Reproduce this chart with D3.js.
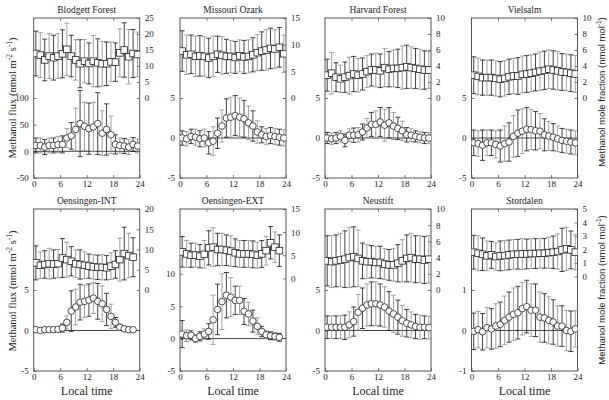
<!DOCTYPE html>
<html>
<head>
<meta charset="utf-8">
<script src="https://cdn.jsdelivr.net/npm/d3@7"></script>
<style>
  body { margin: 0; background: #fff; }
  svg { display: block; }
</style>
</head>
<body>
<svg id="chart"></svg>
<script>
/* set constant */
const width = 609, height = 400;
const colX = [33.7, 180, 325, 471.5], panelW = 106;
const rowY = [[18, 178], [209, 371]];

/* data: hour of day and site names */
const hours = [0.5, 1.5, 2.5, 3.5, 4.5, 5.5, 6.5, 7.5, 8.5, 9.5, 10.5, 11.5,
               12.5, 13.5, 14.5, 15.5, 16.5, 17.5, 18.5, 19.5, 20.5, 21.5, 22.5, 23.5];
const hoursOens = [0.5, 1.5, 2.5, 3.5, 4.5, 5.5, 6.5, 7.5, 8.5, 9.5, 10.5, 11.5,
                   12.5, 13.5, 14.5, 15.5, 16.5, 17.5, 18.5, 19.5, 20.5, 21.5, 22.5];
const sites = ["Blodgett Forest", "Missouri Ozark", "Harvard Forest", "Vielsalm",
               "Oensingen-INT", "Oensingen-EXT", "Neustift", "Stordalen"];

/* axis domains and tick labels (flux = left, mole fraction = right) */
const fluxDomain = [[-50, 250], [-5, 15], [-5, 15], [-5, 15], [-5, 15], [-5, 20], [-5, 15], [-1, 3]];
const fluxTicks = [[-50, 0, 50, 100], [-5, 0, 5], [-5, 0, 5], [-5, 0, 5], [-5, 0, 5], [-5, 0, 5, 10], [-5, 0, 5], [-1, 0, 1]];
const concDomain = [[-25, 25], [-15, 15], [-10, 10], [-10, 10], [-20, 20], [-20, 15], [-10, 10], [-7, 5]];
const concTicks = [[0, 5, 10, 15, 20, 25], [0, 5, 10, 15], [0, 2, 4, 6, 8, 10], [0, 2, 4, 6, 8, 10],
                   [0, 5, 10, 15, 20], [0, 5, 10, 15], [0, 2, 4, 6, 8, 10], [0, 1, 2, 3, 4, 5]];
const timeTicks = [0, 6, 12, 18, 24];

/* Blodgett Forest */
const blodgettConc = [13.9, 13.4, 11.9, 13.1, 12.6, 13.1, 13.8, 15.2, 13.1, 11.9, 10.7, 11.5, 10.8, 11.5, 11.0, 10.7, 10.7, 11.3, 11.2, 14.1, 15.0, 12.9, 13.9, 13.6];
const blodgettConcErr = [7.0, 7.0, 6.5, 7.0, 7.0, 7.0, 7.5, 8.2, 6.5, 6.3, 7.5, 6.8, 6.4, 8.0, 7.5, 7.0, 6.8, 6.2, 6.0, 7.5, 8.5, 8.5, 7.5, 7.0];
const blodgettFlux = [11, 11, 8, 11, 11, 12.5, 13, 25, 29, 41, 52, 47, 42.5, 45.6, 52, 34, 41, 31, 13, 11, 10, 8, 13, 10];
const blodgettFluxErr = [14, 14, 14, 14, 14, 15, 16, 18, 25, 40, 62, 45, 48, 46, 58, 42, 48, 35, 18, 14, 14, 14, 13, 13];

/* Missouri Ozark */
const missouriConc = [8.8, 8.1, 8.2, 7.8, 7.9, 7.8, 7.5, 7.8, 8.2, 8.0, 7.8, 7.8, 7.6, 7.9, 7.7, 7.8, 8.1, 8.5, 8.8, 9.0, 9.3, 9.2, 9.5, 8.3];
const missouriConcErr = [3.8, 3.7, 3.6, 3.8, 3.8, 3.7, 3.7, 3.8, 3.4, 3.5, 3.2, 3.0, 3.0, 3.0, 3.1, 3.1, 3.2, 3.4, 3.6, 3.8, 3.8, 3.6, 3.7, 3.5];
const missouriFlux = [0, -0.1, 0.2, 0.1, -0.1, 0, -0.6, -0.4, 0.6, 1.5, 2.5, 2.6, 2.8, 2.6, 2.4, 1.9, 1.5, 0.75, 0.4, 0.2, 0.3, 0.2, 0.1, 0];
const missouriFluxErr = [0.9, 0.9, 0.9, 1.0, 1.0, 1.1, 1.4, 1.8, 1.9, 2.0, 2.4, 2.5, 2.5, 2.4, 2.3, 2.1, 1.9, 1.4, 1.0, 1.0, 1.0, 1.0, 1.0, 1.0];

/* Harvard Forest */
const harvardConc = [2.85, 3.1, 2.6, 2.4, 2.6, 2.8, 3.0, 2.85, 3.0, 3.3, 3.5, 3.5, 3.4, 3.8, 3.6, 3.7, 3.7, 3.8, 3.9, 3.8, 3.7, 3.6, 3.5, 3.5];
const harvardConcErr = [2.0, 2.6, 1.8, 1.7, 1.9, 2.3, 2.2, 2.1, 2.0, 2.0, 2.0, 2.1, 2.1, 2.4, 2.2, 2.3, 2.4, 2.7, 2.7, 2.6, 2.5, 2.5, 2.4, 2.3];
const harvardFlux = [0, -0.1, 0, 0.2, -0.3, 0.35, 0.35, 0.4, 0.75, 1.25, 1.7, 1.7, 2.0, 1.6, 1.9, 1.5, 1.2, 0.9, 0.4, 0.35, 0.2, 0.1, 0, 0];
const harvardFluxErr = [0.7, 0.7, 0.7, 0.7, 0.8, 0.8, 0.9, 0.9, 1.0, 1.2, 1.5, 1.7, 1.8, 2.0, 1.9, 1.7, 1.4, 1.2, 0.9, 0.8, 0.7, 0.7, 0.7, 0.7];

/* Vielsalm */
const vielsalmConc = [2.85, 2.7, 2.55, 2.55, 2.55, 2.45, 2.35, 2.45, 2.65, 2.75, 2.75, 2.95, 3.0, 3.1, 3.2, 3.35, 3.45, 3.6, 3.5, 3.4, 3.25, 3.2, 3.1, 3.0];
const vielsalmConcErr = [2.3, 2.3, 2.2, 2.2, 2.2, 2.2, 2.2, 2.2, 2.2, 2.2, 2.3, 2.3, 2.3, 2.3, 2.3, 2.4, 2.4, 2.4, 2.4, 2.4, 2.3, 2.3, 2.3, 2.3];
const vielsalmFlux = [-0.6, -0.7, -0.9, -0.6, -0.6, -0.8, -1.0, -0.7, -0.5, 0.2, 0.6, 0.85, 1.1, 1.05, 0.9, 0.85, 0.4, 0.25, 0.1, -0.1, -0.3, -0.4, -0.5, -0.6];
const vielsalmFluxErr = [1.6, 1.6, 1.9, 1.6, 1.6, 1.7, 2.0, 2.2, 2.4, 2.6, 2.9, 2.8, 2.7, 2.5, 2.4, 2.2, 2.0, 1.8, 1.7, 1.6, 1.5, 1.5, 1.5, 1.5];

/* Oensingen-INT */
const oensIntConc = [6.7, 6.1, 6.3, 6.5, 6.4, 6.5, 7.9, 7.5, 7.1, 6.5, 6.3, 6.1, 5.9, 5.7, 5.6, 5.6, 5.5, 5.9, 6.3, 7.5, 9.0, 8.5, 8.1];
const oensIntConcErr = [4.2, 3.3, 3.4, 3.8, 3.5, 3.5, 4.8, 4.3, 3.6, 3.4, 3.6, 3.3, 3.0, 3.0, 3.0, 3.1, 3.0, 3.3, 3.4, 5.3, 6.5, 5.5, 4.8];
const oensIntFlux = [0.1, 0, 0.1, 0.1, 0.1, 0.15, 0.3, 1.0, 2.4, 2.9, 3.5, 3.6, 3.75, 4.0, 3.6, 3.3, 2.6, 1.75, 1.0, 0.4, 0.2, 0.1, 0.1];
const oensIntFluxErr = [0.3, 0.2, 0.2, 0.2, 0.2, 0.3, 0.5, 0.8, 2.5, 2.2, 2.2, 2.0, 2.0, 1.9, 2.2, 2.2, 2.0, 1.5, 0.6, 0.4, 0.3, 0.3, 0.2];

/* Oensingen-EXT */
const oensExtConc = [5.75, 5.3, 5.0, 5.05, 4.8, 5.2, 6.6, 6.75, 6.25, 6.25, 6.1, 5.9, 5.55, 5.3, 5.3, 5.3, 5.2, 5.0, 5.3, 6.0, 7.7, 6.75, 6.0];
const oensExtConcErr = [3.3, 2.9, 2.6, 2.6, 2.5, 3.0, 3.7, 4.2, 3.5, 3.5, 3.3, 3.3, 3.0, 2.9, 2.9, 2.9, 2.9, 2.8, 2.9, 3.1, 3.5, 3.3, 3.4];
const oensExtFlux = [0.7, 0.45, 0.5, 0, 0.35, 0.7, 1.1, 2.9, 4.5, 5.7, 6.7, 6.4, 5.9, 5.9, 4.2, 3.8, 2.7, 1.9, 1.1, 0.6, 0.45, 0.35, 0.2];
const oensExtFluxErr = [2.1, 0.9, 0.7, 0.6, 0.7, 0.8, 1.2, 3.8, 3.9, 4.3, 3.5, 3.0, 2.2, 2.2, 2.0, 1.8, 1.7, 1.3, 0.8, 0.6, 0.6, 0.6, 0.6];

/* Neustift */
const neustiftConc = [3.6, 3.5, 3.6, 3.7, 3.8, 4.0, 4.1, 3.9, 3.6, 3.5, 3.5, 3.4, 3.4, 3.2, 3.1, 3.1, 3.3, 3.6, 3.9, 4.0, 3.8, 3.8, 3.7, 3.8];
const neustiftConcErr = [3.1, 3.2, 3.2, 3.3, 3.5, 3.7, 3.7, 3.5, 2.2, 2.1, 2.0, 2.0, 2.0, 1.9, 1.9, 2.0, 2.3, 2.6, 2.9, 3.0, 2.9, 2.9, 2.9, 2.9];
const neustiftFlux = [0.4, 0.4, 0.4, 0.4, 0.4, 0.7, 1.1, 2.25, 2.75, 3.15, 3.3, 3.3, 3.15, 2.9, 2.4, 2.05, 1.65, 1.2, 0.9, 0.7, 0.5, 0.4, 0.4, 0.35];
const neustiftFluxErr = [1.4, 1.4, 1.4, 1.4, 1.5, 1.6, 1.8, 2.2, 2.5, 2.6, 2.7, 2.7, 2.6, 2.5, 2.4, 2.3, 2.1, 1.9, 1.7, 1.6, 1.5, 1.5, 1.4, 1.4];

/* Stordalen */
const stordalenConc = [1.8, 1.72, 1.65, 1.53, 1.6, 1.48, 1.53, 1.55, 1.6, 1.65, 1.65, 1.67, 1.67, 1.7, 1.7, 1.72, 1.72, 1.77, 1.8, 1.85, 1.97, 2.05, 1.97, 1.8];
const stordalenConcErr = [1.25, 1.3, 1.2, 1.1, 1.0, 1.0, 1.1, 1.1, 1.1, 1.1, 1.1, 1.15, 1.1, 1.1, 1.1, 1.1, 1.1, 1.15, 1.2, 1.3, 1.6, 1.6, 1.4, 1.3];
const stordalenFlux = [-0.02, 0.02, -0.03, 0.07, 0.04, 0.11, 0.15, 0.25, 0.33, 0.4, 0.44, 0.54, 0.59, 0.5, 0.5, 0.33, 0.31, 0.25, 0.21, 0.11, 0.11, 0, -0.02, 0.04];
const stordalenFluxErr = [0.45, 0.45, 0.45, 0.5, 0.5, 0.55, 0.55, 0.6, 0.62, 0.65, 0.65, 0.65, 0.65, 0.65, 0.65, 0.62, 0.6, 0.58, 0.55, 0.5, 0.5, 0.5, 0.5, 0.45];

/* build panel table */
const concList = [blodgettConc, missouriConc, harvardConc, vielsalmConc, oensIntConc, oensExtConc, neustiftConc, stordalenConc];
const concErrList = [blodgettConcErr, missouriConcErr, harvardConcErr, vielsalmConcErr, oensIntConcErr, oensExtConcErr, neustiftConcErr, stordalenConcErr];
const fluxList = [blodgettFlux, missouriFlux, harvardFlux, vielsalmFlux, oensIntFlux, oensExtFlux, neustiftFlux, stordalenFlux];
const fluxErrList = [blodgettFluxErr, missouriFluxErr, harvardFluxErr, vielsalmFluxErr, oensIntFluxErr, oensExtFluxErr, neustiftFluxErr, stordalenFluxErr];

const serif = "'Liberation Serif', 'Times New Roman', serif";
const sans = "'Liberation Sans', Arial, sans-serif";
const frameColor = "#555";

const svg = d3.select("#chart").attr("width", width).attr("height", height);

sites.forEach((name, i) => {
    const col = i % 4, row = Math.floor(i / 4);
    const x0 = colX[col], x1 = x0 + panelW, y0 = rowY[row][0], y1 = rowY[row][1];
    const hrs = concList[i].length === 24 ? hours : hoursOens;

    const xScale = d3.scaleLinear().domain([0, 24]).range([x0, x1]);
    const yFlux = d3.scaleLinear().domain(fluxDomain[i]).range([y1, y0]);
    const yConc = d3.scaleLinear().domain(concDomain[i]).range([y1, y0]);

    const g = svg.append("g").attr("class", "panel");
    g.append("clipPath").attr("id", `clip${i}`).append("rect")
        .attr("x", x0).attr("y", y0).attr("width", x1 - x0).attr("height", y1 - y0);

    /* axes with inward ticks */
    const styleAxis = a => {
        a.select(".domain").remove();
        a.selectAll("line").attr("stroke", frameColor).attr("stroke-width", 0.8);
        a.selectAll("text").attr("font-family", serif).attr("font-size", 9).attr("fill", "#222");
    };
    const fmt = d => String(d);
    g.append("g").attr("transform", `translate(0,${y1})`)
        .call(d3.axisBottom(xScale).tickValues(timeTicks).tickSize(-3).tickPadding(3).tickFormat(fmt)).call(styleAxis);
    g.append("g").attr("transform", `translate(0,${y0})`)
        .call(d3.axisTop(xScale).tickValues([6, 12, 18]).tickSize(-3).tickFormat("")).call(styleAxis);
    g.append("g").attr("transform", `translate(${x0},0)`)
        .call(d3.axisLeft(yFlux).tickValues(fluxTicks[i]).tickSize(-3).tickPadding(5).tickFormat(fmt)).call(styleAxis);
    g.append("g").attr("transform", `translate(${x1},0)`)
        .call(d3.axisRight(yConc).tickValues(concTicks[i]).tickSize(-3).tickPadding(5).tickFormat(fmt)).call(styleAxis);

    /* frame */
    g.append("rect").attr("x", x0).attr("y", y0).attr("width", x1 - x0).attr("height", y1 - y0)
        .attr("fill", "none").attr("stroke", frameColor).attr("stroke-width", 1);

    /* zero line of the flux axis */
    g.append("line").attr("x1", x0).attr("x2", x1).attr("y1", yFlux(0)).attr("y2", yFlux(0))
        .attr("stroke", "#333").attr("stroke-width", 0.9);

    const plotArea = g.append("g").attr("clip-path", `url(#clip${i})`);

    /* error bars, alternating black / grey */
    const drawErr = (vals, errs, yScale) => {
        const eb = plotArea.append("g").selectAll("g").data(vals).enter().append("g")
            .attr("stroke", (d, j) => j % 2 === 0 ? "#111" : "#8a8a8a").attr("stroke-width", 0.8);
        eb.append("line").attr("x1", (d, j) => xScale(hrs[j])).attr("x2", (d, j) => xScale(hrs[j]))
            .attr("y1", (d, j) => yScale(d - errs[j])).attr("y2", (d, j) => yScale(d + errs[j]));
        eb.append("line").attr("x1", (d, j) => xScale(hrs[j]) - 2.5).attr("x2", (d, j) => xScale(hrs[j]) + 2.5)
            .attr("y1", (d, j) => yScale(d + errs[j])).attr("y2", (d, j) => yScale(d + errs[j]));
        eb.append("line").attr("x1", (d, j) => xScale(hrs[j]) - 2.5).attr("x2", (d, j) => xScale(hrs[j]) + 2.5)
            .attr("y1", (d, j) => yScale(d - errs[j])).attr("y2", (d, j) => yScale(d - errs[j]));
    };
    drawErr(concList[i], concErrList[i], yConc);
    drawErr(fluxList[i], fluxErrList[i], yFlux);

    /* squares: mole fraction */
    plotArea.append("g").selectAll("rect").data(concList[i]).enter().append("rect")
        .attr("x", (d, j) => xScale(hrs[j]) - 3.3).attr("y", d => yConc(d) - 3.3)
        .attr("width", 6.6).attr("height", 6.6)
        .attr("fill", "#fff").attr("stroke", "#222").attr("stroke-width", 0.8);

    /* circles: flux */
    plotArea.append("g").selectAll("circle").data(fluxList[i]).enter().append("circle")
        .attr("cx", (d, j) => xScale(hrs[j])).attr("cy", d => yFlux(d)).attr("r", 3.3)
        .attr("fill", "#fff").attr("stroke", "#222").attr("stroke-width", 0.8);

    /* title */
    g.append("text").attr("x", (x0 + x1) / 2).attr("y", y0 - 5).attr("text-anchor", "middle")
        .attr("font-family", serif).attr("font-size", 9.5).attr("fill", "#222").text(name);

    /* x title for bottom row */
    if (row === 1) {
        g.append("text").attr("x", (x0 + x1) / 2).attr("y", 395).attr("text-anchor", "middle")
            .attr("font-family", serif).attr("font-size", 12).attr("fill", "#222").text("Local time");
    }
});

/* y titles */
[98, 291].forEach(cy => {
    const t = svg.append("text").attr("transform", `translate(16,${cy}) rotate(-90)`)
        .attr("text-anchor", "middle").attr("font-family", serif).attr("font-size", 10.5).attr("fill", "#222");
    t.append("tspan").text("Methanol flux (nmol m");
    t.append("tspan").attr("dy", -4).attr("font-size", 7.5).text("-2");
    t.append("tspan").attr("dy", 4).text(" s");
    t.append("tspan").attr("dy", -4).attr("font-size", 7.5).text("-1");
    t.append("tspan").attr("dy", 4).text(")");
});
[92, 290].forEach(cy => {
    const t = svg.append("text").attr("transform", `translate(605,${cy}) rotate(-90)`)
        .attr("text-anchor", "middle").attr("font-family", sans).attr("font-size", 9.5).attr("fill", "#222");
    t.append("tspan").text("Methanol mole fraction (nmol mol");
    t.append("tspan").attr("dy", -4).attr("font-size", 6.5).text("-1");
    t.append("tspan").attr("dy", 4).text(")");
});
</script>
</body>
</html>
